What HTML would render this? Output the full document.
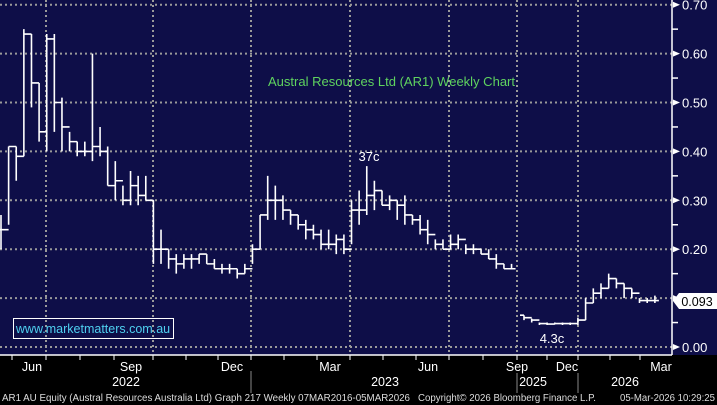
<!DOCTYPE html>
<html><head><meta charset="utf-8"><style>
html,body{margin:0;padding:0;background:#000;}
svg{display:block;font-family:"Liberation Sans",sans-serif;}
</style></head><body>
<svg id="s" width="717" height="405" xmlns="http://www.w3.org/2000/svg">
<rect x="0" y="0" width="717" height="355" fill="#0e0e48"/>
<rect x="0" y="355" width="717" height="50" fill="#000"/>
<g id="grid" stroke="#9a9a9a" stroke-width="2" stroke-dasharray="2,3"></g>
<g id="bars" stroke="#fff" stroke-width="1.6" fill="none"></g>
<line x1="672" y1="0" x2="672" y2="355" stroke="#fff" stroke-width="1.5"/>
<line x1="0" y1="355" x2="672" y2="355" stroke="#fff" stroke-width="1.5"/>
<g id="axis" fill="#fff" font-size="13"></g>
<text x="268" y="86" fill="#5fd35f" font-size="12.5" textLength="247" lengthAdjust="spacingAndGlyphs">Austral Resources Ltd (AR1) Weekly Chart</text>
<text x="369" y="161" fill="#fff" font-size="13" text-anchor="middle">37c</text>
<text x="552" y="343" fill="#fff" font-size="13" text-anchor="middle">4.3c</text>
<rect x="13.5" y="318.5" width="160" height="20" fill="none" stroke="#fff" stroke-width="1"/>
<text x="93" y="333" fill="#4fd0f0" font-size="12.5" text-anchor="middle">www.marketmatters.com.au</text>
<polygon points="673,301 679,293 717,293 717,309 679,309" fill="#fff"/>
<text x="697" y="306" fill="#000" font-size="12.5" text-anchor="middle">0.093</text>
<g fill="#fff" font-size="12.5" text-anchor="middle">
<text x="32" y="371">Jun</text><text x="131" y="371">Sep</text><text x="232" y="371">Dec</text>
<text x="330" y="371">Mar</text><text x="428" y="371">Jun</text><text x="517" y="371">Sep</text>
<text x="567" y="371">Dec</text><text x="661" y="371">Mar</text>
<text x="126" y="386">2022</text><text x="385" y="386">2023</text>
<text x="533" y="386">2025</text><text x="625" y="386">2026</text>
</g>
<g stroke="#888" stroke-width="1"><line x1="251" y1="371" x2="251" y2="393"/><line x1="517" y1="373" x2="517" y2="393"/><line x1="578" y1="373" x2="578" y2="393"/></g>
<g fill="#ddd" font-size="10">
<text x="2" y="401" textLength="408" lengthAdjust="spacingAndGlyphs">AR1 AU Equity (Austral Resources Australia Ltd) Graph 217 Weekly 07MAR2016-05MAR2026</text>
<text x="418" y="401" textLength="178" lengthAdjust="spacingAndGlyphs">Copyright© 2026 Bloomberg Finance L.P.</text>
<text x="620" y="401" textLength="95" lengthAdjust="spacingAndGlyphs">05-Mar-2026 10:29:25</text>
</g>
</svg>
<script>
var NS="http://www.w3.org/2000/svg";
function Y(v){return 347-489*v;}
function el(p,t,a){var e=document.createElementNS(NS,t);for(var k in a)e.setAttribute(k,a[k]);p.appendChild(e);return e;}
var g=document.getElementById('grid');
for(var i=0;i<=7;i++){var y=Y(i/10);el(g,'line',{x1:0,y1:y,x2:672,y2:y});}
[46,153,251,350,449,517,578].forEach(function(x){el(g,'line',{x1:x,y1:0,x2:x,y2:355});});
var ax=document.getElementById('axis');
for(var i=0;i<=7;i++){var y=Y(i/10);el(ax,'polygon',{points:"673,"+(y-3)+" 680,"+y+" 673,"+(y+3)});
var t=el(ax,'text',{x:682,y:y+5});t.textContent=(i/10).toFixed(2);
if(i<7){var y2=Y(i/10+0.05);el(ax,'line',{x1:672,y1:y2,x2:678,y2:y2,stroke:'#fff','stroke-width':1.5});}}
[12,46,80,114,153,186,218,251,284,317,350,383,416,449,483,517,547,578,610,640].forEach(function(x){el(ax,'line',{x1:x,y1:355,x2:x,y2:360,stroke:'#fff','stroke-width':1});});
var A=[[.27,.20,.24],[.41,.25,.41],[.41,.34,.39],[.65,.39,.64],[.64,.49,.54],[.54,.42,.44],[.64,.40,.63],[.64,.44,.50],[.51,.40,.45],[.44,.40,.42],[.42,.39,.40],[.42,.39,.40],[.60,.38,.41],[.45,.39,.40],[.41,.33,.33],[.38,.30,.34],[.33,.29,.30],[.36,.29,.33],[.35,.29,.31],[.35,.30,.30],[.30,.17,.20],[.24,.17,.20],[.20,.16,.18],[.19,.15,.17],[.19,.16,.18],[.19,.16,.18],[.19,.17,.19],[.19,.17,.17],[.18,.16,.16],[.17,.15,.16],[.17,.15,.16],[.16,.14,.15],[.17,.15,.16],[.21,.17,.20],[.27,.20,.27],[.35,.26,.30],[.33,.26,.30],[.31,.26,.28],[.28,.25,.27],[.27,.24,.25],[.26,.22,.24],[.25,.22,.23],[.24,.20,.21],[.24,.20,.21],[.23,.19,.22],[.23,.19,.20],[.30,.21,.28],[.32,.25,.28],[.37,.27,.31],[.34,.28,.32],[.32,.29,.29],[.31,.28,.30],[.30,.26,.29],[.31,.25,.27],[.27,.25,.26],[.27,.23,.24],[.26,.21,.23],[.22,.20,.21],[.22,.20,.20],[.23,.20,.21],[.23,.20,.22],[.21,.19,.20],[.21,.19,.20],[.20,.19,.19],[.20,.18,.18],[.19,.16,.17],[.17,.16,.16],[.17,.16,.16]];
var B=[[.065,.055,.06],[.058,.05,.055],[.05,.045,.048],[.05,.045,.047],[.05,.046,.048],[.05,.045,.048],[.05,.045,.048],[.06,.045,.055],[.10,.055,.09],[.12,.09,.11],[.13,.10,.12],[.15,.12,.14],[.14,.12,.13],[.13,.10,.12],[.12,.10,.11],[.10,.09,.095],[.10,.09,.095],[.105,.09,.095]];
var bg=document.getElementById('bars');
function draw(arr,x0,dx,o0){var d="",o=o0;arr.forEach(function(b,i){var x=x0+i*dx;d+="M"+x+","+Y(b[0])+"V"+Y(b[1])+"M"+(x-4)+","+Y(o)+"H"+x+"M"+x+","+Y(b[2])+"H"+(x+4);o=b[2];});el(bg,'path',{d:d});}
draw(A,1,7.62,.24);draw(B,524,7.7,.065);
</script>
</body></html>
